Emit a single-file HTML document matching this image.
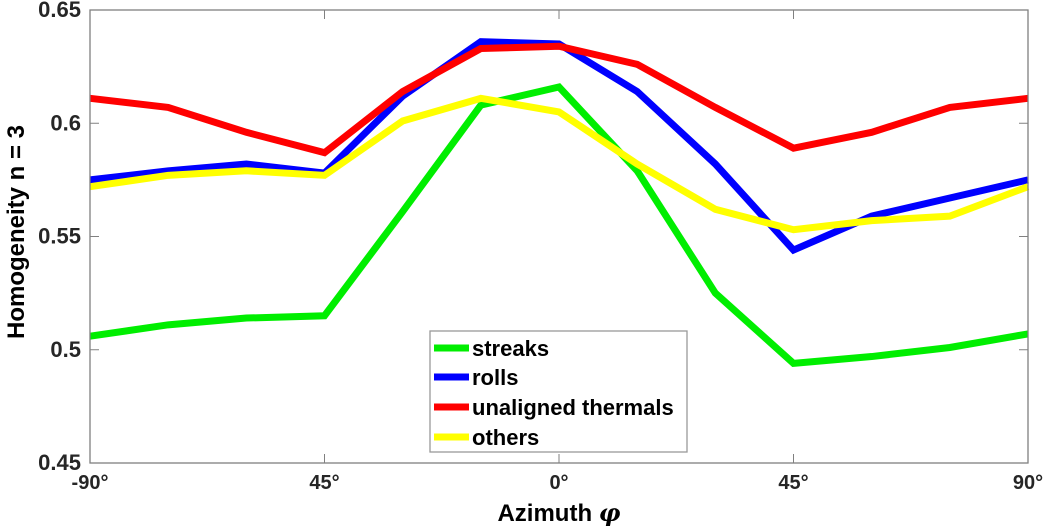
<!DOCTYPE html>
<html><head><meta charset="utf-8"><style>
body{margin:0;background:#fff;}
svg{display:block;font-family:"Liberation Sans",sans-serif;font-weight:bold;}
</style></head><body>
<svg id="chart" width="1046" height="527"></svg>
<script>
const categories=[-90,-75,-60,-45,-30,-15,0,15,30,45,60,75,90];
const xTickVals=[-90,-45,0,45,90];
const xTickLabels=["-90°","45°","0°","45°","90°"];
const yTickVals=[0.45,0.5,0.55,0.6,0.65];
const yTickLabels=["0.45","0.5","0.55","0.6","0.65"];
const streaks=[0.506,0.511,0.514,0.515,0.561,0.608,0.616,0.579,0.525,0.494,0.497,0.501,0.507];
const rolls=[0.575,0.579,0.582,0.578,0.612,0.636,0.635,0.614,0.582,0.544,0.559,0.567,0.575];
const thermals=[0.611,0.607,0.596,0.587,0.614,0.633,0.634,0.626,0.607,0.589,0.596,0.607,0.611];
const others=[0.572,0.577,0.579,0.577,0.601,0.611,0.605,0.582,0.562,0.553,0.557,0.559,0.572];
const seriesNames=["streaks","rolls","unaligned thermals","others"];
const seriesColors=["#00ee00","#0000ff","#ff0000","#ffff00"];
const seriesData=[streaks,rolls,thermals,others];

const L=90,R=1028,T=10,B=463;
const x=v=>L+(v+90)/180*(R-L);
const y=v=>B-(v-0.45)/0.2*(B-T);
const svg=document.getElementById('chart');
const NS='http://www.w3.org/2000/svg';
function mk(t,a,p){const e=document.createElementNS(NS,t);for(const k in a)e.setAttribute(k,a[k]);(p||svg).appendChild(e);return e;}

xTickVals.forEach((v,i)=>{
  const tk=mk('line',{x1:x(v),x2:x(v),y1:B,y2:B-9,stroke:'#808080','stroke-width':1});
  
  
  const tk2=mk('line',{x1:x(v),x2:x(v),y1:T,y2:T+9,stroke:'#808080','stroke-width':1});
  
  
  const t=mk('text',{x:x(v),y:B+26,'text-anchor':'middle','font-size':20,fill:'#262626'});
  t.textContent=xTickLabels[i];
  
  
});
yTickVals.forEach((v,i)=>{
  const tk=mk('line',{x1:L,x2:L+9,y1:y(v),y2:y(v),stroke:'#808080','stroke-width':1});
  
  
  const tk2=mk('line',{x1:R,x2:R-9,y1:y(v),y2:y(v),stroke:'#808080','stroke-width':1});
  
  
  const t=mk('text',{x:L-9,y:y(v)+7,'text-anchor':'end','font-size':22,fill:'#262626'});
  t.textContent=yTickLabels[i];
  
  
});

seriesData.forEach((d,s)=>{
  const p=mk('polyline',{points:d.map((v,i)=>x(categories[i])+','+y(v)).join(' '),fill:'none',stroke:seriesColors[s],'stroke-width':7,'stroke-linejoin':'miter'});
  
  
});

const fr=mk('rect',{x:L,y:T,width:R-L,height:B-T,fill:'none',stroke:'#808080','stroke-width':1.3});



const lg=mk('g',{});


mk('rect',{x:430,y:331,width:257,height:121,fill:'#fff',stroke:'#999','stroke-width':1.3},lg);
const ly=[348,377,407,437];
seriesNames.forEach((n,i)=>{
  const g=mk('g',{},lg);
  
  
  mk('line',{x1:434,x2:469,y1:ly[i],y2:ly[i],stroke:seriesColors[i],'stroke-width':7},g);
  const t=mk('text',{x:472,y:ly[i]+8,'font-size':22,fill:'#000'},g);
  t.textContent=n;
});

const xt=mk('text',{x:559,y:521,'text-anchor':'middle','font-size':24,fill:'#000'});
xt.innerHTML='Azimuth <tspan font-style="italic" font-family="DejaVu Serif">φ</tspan>';


const yt=mk('text',{x:0,y:0,'text-anchor':'middle','font-size':24,fill:'#000',transform:'translate(24,232) rotate(-90)'});
yt.textContent='Homogeneity n = 3';


</script>
</body></html>
